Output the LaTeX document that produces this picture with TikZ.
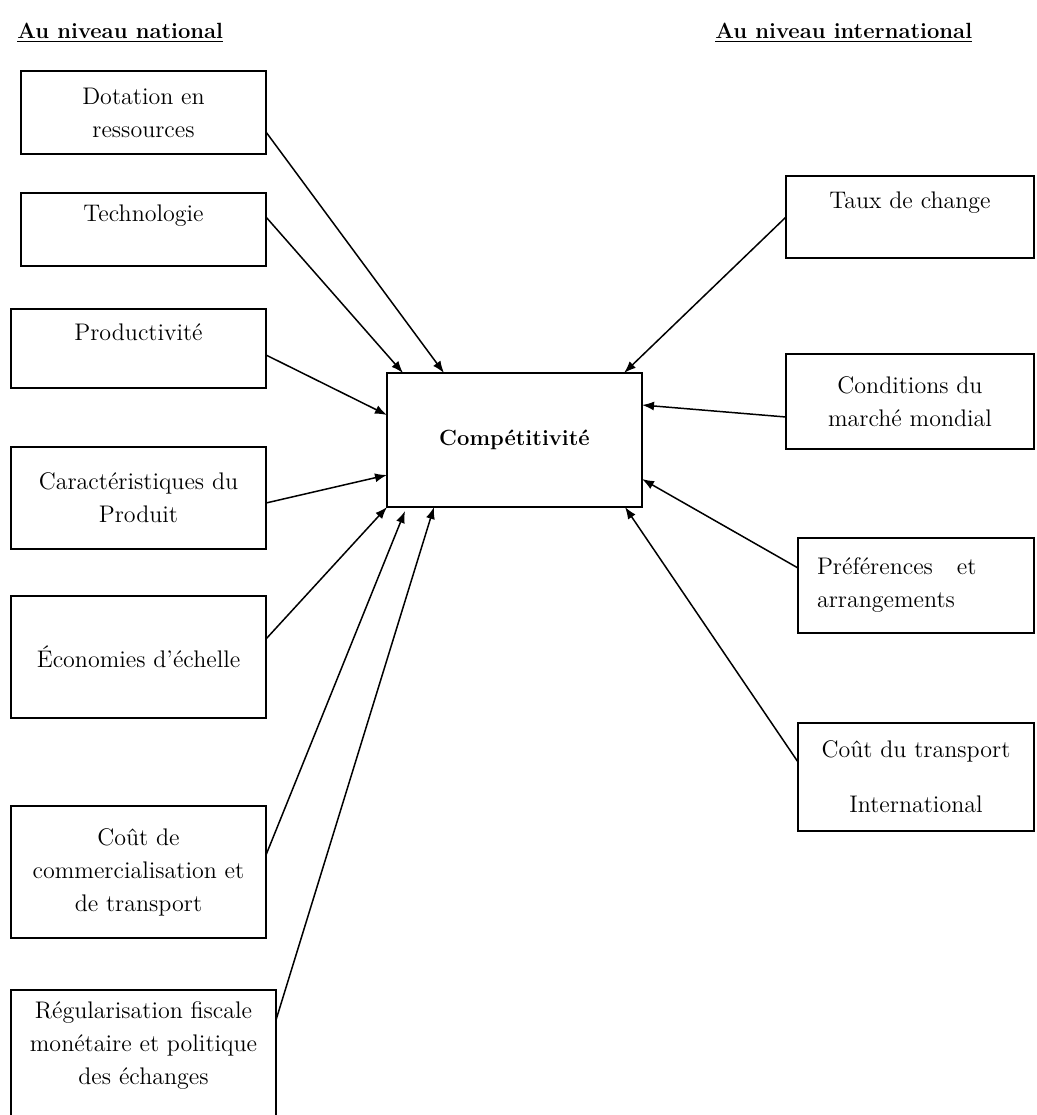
\documentclass[tikz,border=0pt]{standalone}
\usepackage{tikz}
\usetikzlibrary{arrows.meta,calc}

\begin{document}
\begin{tikzpicture}[x=0.5pt,y=-0.5pt,
    facteur/.style={draw,line width=1pt,inner sep=0pt,outer sep=0pt,align=center,anchor=north west,font=\fontsize{12}{16.5}\selectfont},
    fleche/.style={line width=0.75pt,-{Latex[length=6pt,width=4.5pt]}},
    titre/.style={anchor=base west,inner sep=0pt,font=\fontsize{11}{13}\selectfont\bfseries}]
\useasboundingbox (0,0) rectangle (1037,1115);

\node[titre] (national) at (17,38) {\underline{Au niveau national}};
\node[titre] (international) at (715,38) {\underline{Au niveau international}};

\node[facteur,minimum width=122.5pt,minimum height=41.5pt] (dotation) at (21,71) {Dotation en\\ressources};
\node[facteur,minimum width=122.5pt,minimum height=36.5pt] (techno) at (21,193) {Technologie\\~};
\node[facteur,minimum width=127.5pt,minimum height=39.5pt] (produc) at (11,309) {Productivité\\~};
\node[facteur,minimum width=127.5pt,minimum height=51pt] (caract) at (11,447) {Caractéristiques du\\Produit};
\node[facteur,minimum width=127.5pt,minimum height=61pt] (econ) at (11,596) {Économies d’échelle};
\node[facteur,minimum width=127.5pt,minimum height=66pt] (coutcom) at (11,806) {Coût de\\commercialisation et\\de transport};
\node[facteur,minimum width=132.5pt,minimum height=70pt] (regul) at (11,990) {Régularisation fiscale\\monétaire et politique\\des échanges\\~};

\node[facteur,minimum width=127.5pt,minimum height=67pt,font=\fontsize{11}{13}\selectfont\bfseries] (comp) at (387,373) {Compétitivité};

\node[facteur,minimum width=124pt,minimum height=41pt] (taux) at (786,176) {Taux de change\\~};
\node[facteur,minimum width=124pt,minimum height=47.5pt] (cond) at (786,354) {Conditions du\\marché mondial};
\node[facteur,minimum width=118pt,minimum height=47.5pt,align=left,text width=99pt,inner xsep=9.5pt] (pref) at (798,538) {Préférences\ \ \ et\\arrangements};
\node[facteur,minimum width=118pt,minimum height=54pt] (couttr) at (798,723) {Coût du transport\\[11pt]International};

\draw[fleche] ($(dotation.north east)+(0,61)$) -- ($(comp.north west)+(57,0)$);
\draw[fleche] ($(techno.north east)+(0,24)$) -- ($(comp.north west)+(16,0)$);
\draw[fleche] ($(produc.north east)+(0,46)$) -- ($(comp.north west)+(0,42)$);
\draw[fleche] ($(caract.north east)+(0,56)$) -- ($(comp.north west)+(0,102)$);
\draw[fleche] ($(econ.north east)+(0,43)$) -- (comp.south west);
\draw[fleche] ($(coutcom.north east)+(0,49)$) -- ($(comp.south west)+(18,4)$);
\draw[fleche] ($(regul.north east)+(0,30)$) -- ($(comp.south west)+(47,0)$);

\draw[fleche] ($(taux.north west)+(0,41)$) -- ($(comp.north east)+(-18,0)$);
\draw[fleche] ($(cond.north west)+(0,63)$) -- ($(comp.north east)+(0,32)$);
\draw[fleche] ($(pref.north west)+(0,30)$) -- ($(comp.north east)+(0,106)$);
\draw[fleche] ($(couttr.north west)+(0,39)$) -- ($(comp.south east)+(-17,0)$);
\end{tikzpicture}
\end{document}
